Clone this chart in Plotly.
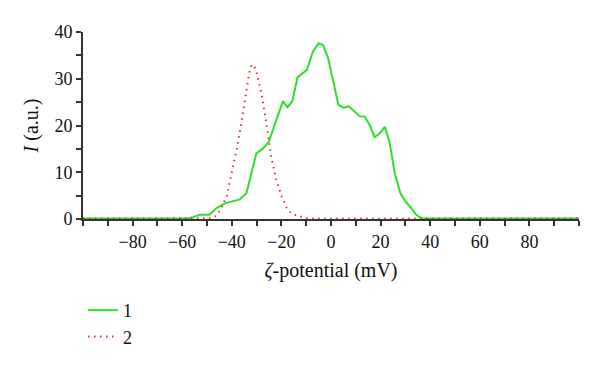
import plotly.graph_objects as go

# Series 1 (green, solid)
x1 = [-100, -58, -56, -53, -49, -46, -42.5, -39.5, -36.8, -34.1, -30.1, -27.4, -25.1,
      -19.4, -17.6, -15.6, -13.5, -9.7, -7.3, -5.0, -3.2, -1.2, 3.0, 5.0, 7.1,
      11.6, 13.6, 15.6, 17.6, 19.6, 21.7, 23.7, 25.7, 28.0, 30.1, 32.4, 34.4, 36.5, 100]
y1 = [0.1, 0.1, 0.3, 0.9, 0.9, 2.4, 3.4, 3.8, 4.2, 5.5, 14.0, 15.1, 16.5,
      25.2, 23.9, 25.2, 30.3, 31.9, 35.8, 37.6, 37.2, 34.5, 24.4, 23.8, 24.1,
      22.0, 21.9, 20.1, 17.5, 18.3, 19.7, 16.2, 9.8, 5.5, 3.7, 2.3, 0.9, 0.15, 0.1]

# Series 2 (red, dotted)
x2 = [-100, -50, -48, -46, -44, -42, -40, -38, -36, -34, -33, -32, -31, -30,
      -28, -26, -24, -22, -20, -18, -16, -14, -12, -10, -8, 100]
y2 = [0.1, 0.1, 0.15, 0.8, 2.6, 5.0, 9.8, 15.0, 21.0, 28.5, 31.2, 33.0, 32.8, 31.3,
      26.8, 20.3, 13.0, 8.3, 5.0, 2.5, 1.2, 0.8, 0.4, 0.15, 0.1, 0.1]

x_ticks = [-80, -60, -40, -20, 0, 20, 40, 60, 80]
x_ticklabels = ["\u221280", "\u221260", "\u221240", "\u221220", "0", "20", "40", "60", "80"]
y_ticks = [0, 10, 20, 30, 40]

font = "Liberation Serif"
axcol = "#333333"
tsize = 18

fig = go.Figure()
fig.add_trace(go.Scatter(x=x1, y=y1, mode="lines", name="1",
                         line=dict(color="#2be02b", width=2)))
fig.add_trace(go.Scatter(x=x2, y=y2, mode="lines", name="2",
                         line=dict(color="#dd3333", width=2, dash="1.5px,4.5px")))

fig.update_layout(
    width=600, height=367,
    margin=dict(l=83, r=21, t=32, b=148, autoexpand=False),
    paper_bgcolor="white", plot_bgcolor="white",
    font=dict(family=font, size=tsize, color="#111111"),
    showlegend=True,
    legend=dict(x=0.0, y=-0.39, xanchor="left", yanchor="top",
                font=dict(family=font, size=tsize, color="#111111"),
                tracegroupgap=0, bgcolor="rgba(0,0,0,0)"),
    xaxis=dict(range=[-100, 100], tickvals=x_ticks, ticktext=x_ticklabels,
               automargin=False,
               ticks="outside", ticklen=5, tickwidth=1.5, tickcolor=axcol,
               showline=True, linecolor=axcol, linewidth=2, showgrid=False, zeroline=False,
               minor=dict(dtick=10, tick0=0, ticks="outside", ticklen=5, tickwidth=1.5, tickcolor=axcol, showgrid=False),
               title=dict(text="<i>ζ</i>-potential (mV)", standoff=12,
                          font=dict(family=font, size=20))),
    yaxis=dict(range=[0, 40], tickvals=y_ticks,
               automargin=False,
               ticks="outside", ticklen=5, tickwidth=1.5, tickcolor=axcol,
               showline=True, linecolor=axcol, linewidth=2, showgrid=False, zeroline=False,
               minor=dict(dtick=5, tick0=0, ticks="outside", ticklen=5, tickwidth=1.5, tickcolor=axcol, showgrid=False),
               title=dict(text="<i>I</i> (a.u.)", standoff=10,
                          font=dict(family=font, size=20))),
)

fig.write_html("out.html", config={"displayModeBar": False},
               post_script="document.body.style.margin='0';")
